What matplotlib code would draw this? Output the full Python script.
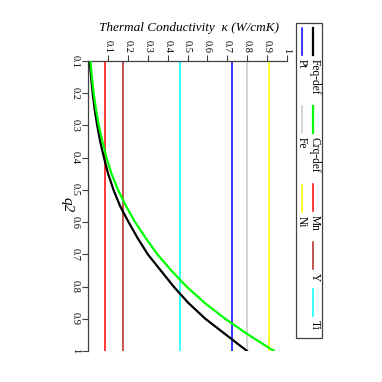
import matplotlib
matplotlib.use("Agg")
import matplotlib.pyplot as plt
from matplotlib.lines import Line2D
from matplotlib.patches import Rectangle

plt.rcParams['font.family'] = ['Liberation Serif', 'DejaVu Serif']

# q2 values and thermal conductivity (W/cmK)
q2 = [0.10, 0.15, 0.20, 0.25, 0.30, 0.35, 0.40, 0.45, 0.50, 0.55,
      0.60, 0.65, 0.70, 0.75, 0.80, 0.85, 0.90, 0.95, 1.00]
feq_def = [0.007, 0.014, 0.022, 0.032, 0.045, 0.060, 0.079, 0.100, 0.127, 0.160,
           0.203, 0.249, 0.300, 0.365, 0.430, 0.503, 0.590, 0.695, 0.800]
crq_def = [0.011, 0.018, 0.027, 0.039, 0.053, 0.071, 0.092, 0.117, 0.150, 0.190,
           0.236, 0.290, 0.348, 0.418, 0.495, 0.585, 0.690, 0.808, 0.936]

# constant reference metals
metals = ['Mn', 'Y', 'Ti', 'Pt', 'Fe', 'Ni']
metal_kappa = [0.082, 0.173, 0.463, 0.723, 0.800, 0.911]
metal_colors = ['#ff0000', '#b22222', '#00ffff', '#0000ff', '#c8c8c8', '#ffff00']

kappa_ticks = [0.1, 0.2, 0.3, 0.4, 0.5, 0.6, 0.7, 0.8, 0.9, 1.0]
kappa_labels = ['0.1', '0.2', '0.3', '0.4', '0.5', '0.6', '0.7', '0.8', '0.9', '1']
q2_ticks = [0.1, 0.2, 0.3, 0.4, 0.5, 0.6, 0.7, 0.8, 0.9, 1.0]
q2_labels = ['0.1', '0.2', '0.3', '0.4', '0.5', '0.6', '0.7', '0.8', '0.9', '1']

W = 382.0


def fx(px):
    return px / W


def fy(py):
    return 1 - py / W


fig = plt.figure(figsize=(3.82, 3.82), dpi=100)
ax = fig.add_axes([fx(88.3), fy(351), fx(286.7) - fx(88.3), fy(61) - fy(351)])

# the chart is drawn turned a quarter turn clockwise
ax.plot(feq_def, q2, color='black', lw=1.6, zorder=3)
ax.plot(crq_def, q2, color='#00ff00', lw=1.6, zorder=3)
for k, c in zip(metal_kappa, metal_colors):
    ax.plot([k, k], [q2[0], q2[-1]], color=c, lw=1.1, zorder=2)

ax.set_xlim(0, 1)
ax.set_ylim(1, 0.1)
ax.xaxis.tick_top()
ax.set_xticks(kappa_ticks)
ax.set_xticklabels(kappa_labels, rotation=-90, fontsize=7.5)
ax.set_yticks(q2_ticks)
ax.set_yticklabels(q2_labels, rotation=-90, fontsize=7.5, va='center')
ax.tick_params(axis='both', direction='out', length=4, width=0.8,
               color='#404040', pad=2)
for s in ['right', 'bottom']:
    ax.spines[s].set_visible(False)
for s in ['left', 'top']:
    ax.spines[s].set_color('#404040')
    ax.spines[s].set_linewidth(0.9)

fig.text(fx(189), fy(28), 'Thermal Conductivity  \u03ba (W/cmK)',
         style='italic', fontsize=9.5, ha='center', va='center')
fig.text(fx(66.7), fy(205), 'q2', style='italic', fontsize=11,
         rotation=-90, ha='center', va='center')

# legend (two columns after the turn)
fig.add_artist(Rectangle((fx(295.5), fy(337.5)), fx(321.5) - fx(295.5), fy(23) - fy(337.5),
                         transform=fig.transFigure, fill=False,
                         edgecolor='#404040', lw=0.9))
entries = [
    ('Feq-def', 'black', 313.0, 28), ('Crq-def', '#00ff00', 313.0, 106),
    ('Mn', '#ff0000', 313.0, 184), ('Y', '#b22222', 313.0, 242),
    ('Ti', '#00ffff', 313.0, 289),
    ('Pt', '#0000ff', 302.0, 28), ('Fe', '#c8c8c8', 302.0, 106),
    ('Ni', '#ffff00', 302.0, 185),
]
for label, c, x, y0 in entries:
    lw = 1.6 if label.endswith('def') else 1.1
    fig.add_artist(Line2D([fx(x), fx(x)], [fy(y0), fy(y0 + 27)],
                          transform=fig.transFigure, color=c, lw=lw))
    tx = x + 1.5 if x > 310 else x - 0.5
    fig.text(fx(tx), fy(y0 + 31), label, fontsize=8.3, rotation=-90,
             ha='center', va='top')

fig.savefig('out.png', dpi=100)
